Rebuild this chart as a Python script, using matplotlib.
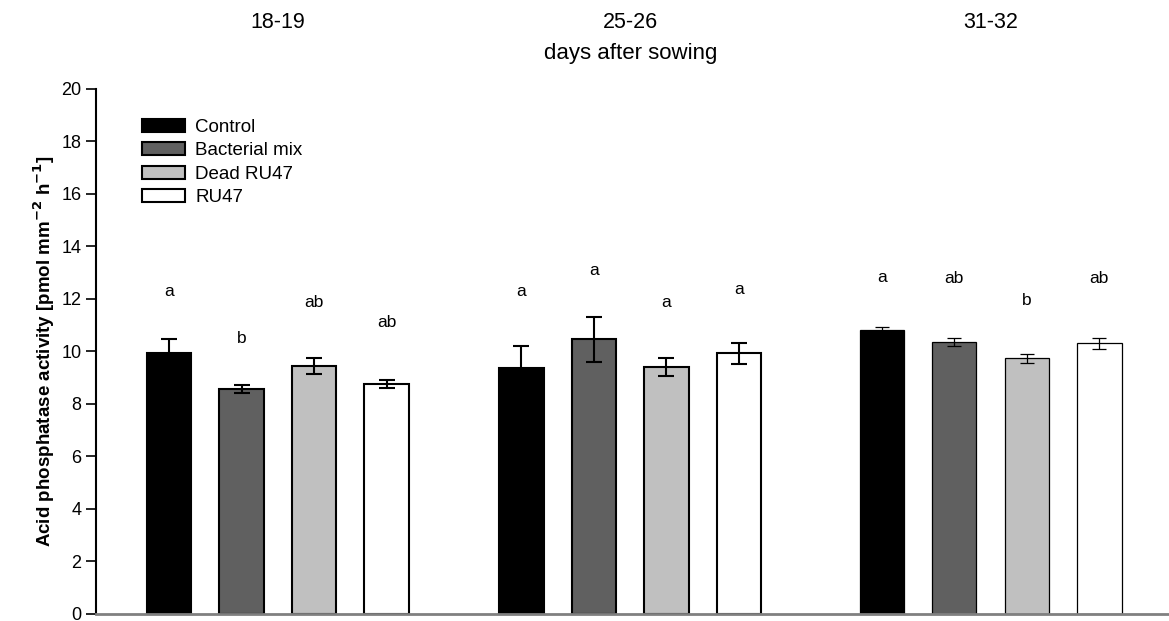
import matplotlib.pyplot as plt
import numpy as np

plt.rcParams['font.family'] = ['Liberation Sans', 'DejaVu Sans']

periods = ['18-19', '25-26', '31-32']
treatments = ['Control', 'Bacterial mix', 'Dead RU47', 'RU47']

# mean activity per treatment, one list per sampling period
means = [
    [9.94, 8.57, 9.45, 8.76],
    [9.37, 10.46, 9.41, 9.93],
    [10.82, 10.35, 9.75, 10.31],
]
errors = [
    [0.52, 0.14, 0.29, 0.17],
    [0.85, 0.86, 0.34, 0.41],
    [0.13, 0.15, 0.17, 0.22],
]
letters = [
    ['a', 'b', 'ab', 'ab'],
    ['a', 'a', 'a', 'a'],
    ['a', 'ab', 'b', 'ab'],
]
letter_y = [
    [12.27, 10.48, 11.85, 11.12],
    [12.28, 13.10, 11.87, 12.38],
    [12.80, 12.79, 11.96, 12.79],
]

colors = ['#000000', '#606060', '#c0c0c0', '#ffffff']
group_start = [0, 4.86, 9.83]
width = 0.61

fig = plt.figure(figsize=(11.69, 6.21), dpi=100)
ax = fig.add_axes([0.0821, 0.0113, 0.9179, 0.8454])

for g in range(len(periods)):
    x = group_start[g] + np.arange(len(treatments))
    lw = 0.9 if g == 2 else 1.5
    ax.bar(x, means[g], width=width, color=colors, edgecolor='black',
           linewidth=lw, zorder=2)
    ax.errorbar(x, means[g], yerr=errors[g], fmt='none', ecolor='black',
                elinewidth=lw, capsize=5.5 if g < 2 else 5, capthick=lw, zorder=3)
    for xi, txt, ty in zip(x, letters[g], letter_y[g]):
        ax.text(xi, ty, txt, ha='center', va='center', fontsize=12.5)

ax.set_xlim(-1.007, 13.79)
ax.set_ylim(0, 20)
ax.set_yticks(np.arange(0, 21, 2))
ax.tick_params(axis='y', direction='out', length=7, width=1.2, labelsize=13)
ax.set_xticks([])
ax.spines['top'].set_visible(False)
ax.spines['right'].set_visible(False)
ax.spines['left'].set_linewidth(1.5)
ax.spines['bottom'].set_color('#808080')
ax.spines['bottom'].set_linewidth(2)

ax.set_ylabel('Acid phosphatase activity [pmol mm$^{\\mathbf{-2}}$ h$^{\\mathbf{-1}}$]',
              fontsize=13.5, fontweight='bold', labelpad=3)

# sampling period headers above the plot
for g, p in enumerate(periods):
    xc = group_start[g] + 1.5
    ax.text(xc, 22.55, p, ha='center', va='center', fontsize=15.5, clip_on=False)
ax.text(group_start[1] + 1.5, 21.35, 'days after sowing', ha='center',
        va='center', fontsize=16, clip_on=False)

handles = [plt.Rectangle((0, 0), 1, 1, facecolor=c, edgecolor='black', linewidth=1.5)
           for c in colors]
ax.legend(handles, treatments, loc='upper left', bbox_to_anchor=(0.027, 0.975),
          frameon=False, fontsize=13.5, handlelength=2.3, handleheight=0.7,
          labelspacing=0.33, handletextpad=0.55)

fig.savefig('out.png', dpi=100)
